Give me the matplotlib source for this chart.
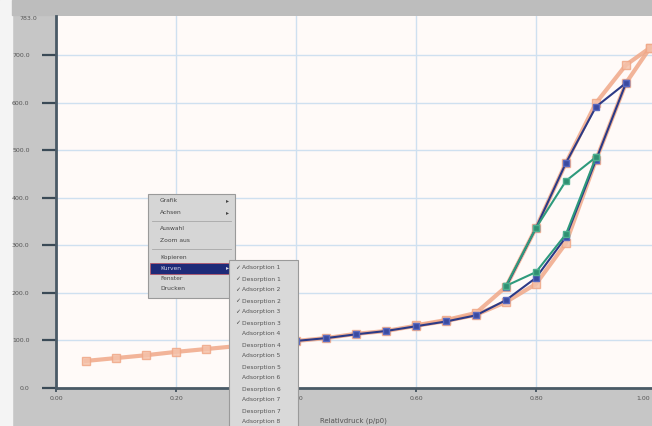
import matplotlib
matplotlib.use("Agg")
import matplotlib.pyplot as plt
from matplotlib.patches import Rectangle

# ---- isotherm data (relative pressure vs. adsorbed amount) ----
p_ads1 = [0.05, 0.10, 0.15, 0.20, 0.25, 0.30, 0.35, 0.40, 0.45, 0.50, 0.55,
          0.60, 0.65, 0.70, 0.75, 0.80, 0.85, 0.90, 0.95, 0.99]
v_ads1 = [57, 63, 69, 76, 82, 88, 95, 99, 105, 114, 120,
          131, 141, 154, 181, 219, 305, 480, 642, 716]
p_des1 = [0.99, 0.95, 0.90, 0.85, 0.80, 0.75, 0.70, 0.65, 0.60]
v_des1 = [716, 680, 600, 474, 337, 213, 158, 143, 132]

p_ads2 = [0.40, 0.45, 0.50, 0.55, 0.60, 0.65, 0.70, 0.75, 0.80, 0.85, 0.90, 0.95]
v_ads2 = [99, 105, 113, 120, 130, 140, 153, 185, 232, 318, 480, 642]
p_des2 = [0.95, 0.90, 0.85, 0.80, 0.75]
v_des2 = [642, 592, 474, 337, 213]

p_ads3 = [0.75, 0.80, 0.85, 0.90]
v_ads3 = [215, 244, 324, 486]
p_des3 = [0.90, 0.85, 0.80, 0.75]
v_des3 = [486, 436, 337, 215]

x_ticks = [0.0, 0.2, 0.4, 0.6, 0.8, 1.0]
x_ticklabels = ["0.00", "0.20", "0.40", "0.60", "0.80", "1.00"]
y_ticks = [0, 100, 200, 300, 400, 500, 600, 700]
y_ticklabels = ["0.0", "100.0", "200.0", "300.0", "400.0", "500.0", "600.0", "700.0"]
y_top_label = "783.0"
x_title = "Relativdruck (p/p0)"

menu_items = ["Grafik", "Achsen", "Auswahl", "Zoom aus", "Kopieren",
              "Kurven", "Fenster", "Drucken"]
submenu_items = ["Adsorption 1", "Desorption 1", "Adsorption 2", "Desorption 2",
                 "Adsorption 3", "Desorption 3", "Adsorption 4", "Desorption 4",
                 "Adsorption 5", "Desorption 5", "Adsorption 6", "Desorption 6",
                 "Adsorption 7", "Desorption 7", "Adsorption 8"]

W, H = 652, 426
fig = plt.figure(figsize=(W / 100, H / 100), dpi=100)
fig.patch.set_facecolor("#c6c6c6")

# window frame pieces
bg = fig.add_axes([0, 0, 1, 1], zorder=0)
bg.set_xlim(0, W); bg.set_ylim(H, 0); bg.axis("off")
bg.add_patch(Rectangle((0, 0), 12, H, color="#f4f4f4"))
bg.add_patch(Rectangle((12, 0), W - 12, 15, color="#bdbdbd"))

# ---- chart ----
x0, x1 = 56, 656
y_top, y_bot = 16, 388
ax = fig.add_axes([x0 / W, (H - y_bot) / H, (x1 - x0) / W, (y_bot - y_top) / H], zorder=1)
ax.set_facecolor("#fffaf8")
ax.set_xlim(0, 1)
ax.set_ylim(0, 783)
ax.set_xticks(x_ticks)
# the last tick sits at the window edge; its label is placed by hand below
ax.set_xticklabels(x_ticklabels[:-1] + [""])
ax.set_yticks(y_ticks)
ax.set_yticklabels(y_ticklabels)
ax.grid(True, color="#cfe0f0", linewidth=1.0)
ax.set_axisbelow(True)
for s in ["top", "right"]:
    ax.spines[s].set_visible(False)
for s in ["left", "bottom"]:
    ax.spines[s].set_color("#4a5a66")
    ax.spines[s].set_linewidth(2.0)
ax.tick_params(axis="y", length=10, width=1.6, color="#3a4a56", pad=9,
               labelsize=4.5, labelcolor="#555555")
ax.tick_params(axis="x", length=3, width=1.2, color="#3a4a56", pad=3,
               labelsize=4.5, labelcolor="#555555")
ax.annotate(x_ticklabels[-1], xy=(x_ticks[-1], 0), xycoords=("data", "axes fraction"),
            xytext=(-4, -6), textcoords="offset points", ha="right", va="top",
            fontsize=4.5, color="#555555", annotation_clip=False)
ax.text(-0.032, 783, y_top_label, transform=ax.transData,
        ha="right", va="top", fontsize=4.5, color="#555555")

salmon = "#f0a888"
navy = "#2c3a86"
green = "#2e9a7c"

ax.plot(p_ads1, v_ads1, color=salmon, lw=3.0, marker="s", ms=6,
        mfc="#f5c2aa", mec=salmon, alpha=0.85, zorder=3)
ax.plot(p_des1, v_des1, color=salmon, lw=3.0, marker="s", ms=6,
        mfc="#f5c2aa", mec=salmon, alpha=0.85, zorder=3)
ax.plot(p_ads2, v_ads2, color=navy, lw=1.5, marker="s", ms=5,
        mfc="#3a4aa0", mec="#5a6ac0", zorder=4)
ax.plot(p_des2, v_des2, color=navy, lw=1.5, marker="s", ms=5,
        mfc="#3a4aa0", mec="#5a6ac0", zorder=4)
ax.plot(p_ads3, v_ads3, color=green, lw=1.5, marker="s", ms=5,
        mfc="#2f8f72", mec="#4fb090", zorder=5)
ax.plot(p_des3, v_des3, color=green, lw=1.5, marker="s", ms=5,
        mfc="#2f8f72", mec="#4fb090", zorder=5)

# ---- popup menus drawn on top ----
ov = fig.add_axes([0, 0, 1, 1], zorder=10)
ov.set_xlim(0, W); ov.set_ylim(H, 0); ov.axis("off")
ov.patch.set_alpha(0)

fig.text(320 / W, 1 - 421 / H, x_title, fontsize=5, color="#555555",
         ha="left", va="center")

# main context menu
ov.add_patch(Rectangle((148, 194), 87, 104, facecolor="#d6d6d6",
                       edgecolor="#9a9a9a", lw=0.8))
menu_y = [201, 213, 229, 240, 257, 268, 279, 289]
has_arrow = [True, True, False, False, False, True, False, False]
for yy in [221, 249]:
    ov.plot([152, 231], [yy, yy], color="#a8a8a8", lw=0.6)
for label, yy, arr in zip(menu_items, menu_y, has_arrow):
    col = "#444444"
    if label == "Kurven":
        ov.add_patch(Rectangle((150, 263), 83, 11, facecolor="#1e2a78",
                               edgecolor="#c05060", lw=0.5))
        col = "#d8d8e8"
    ov.text(160, yy, label, fontsize=4.3, color=col, va="center", ha="left")
    if arr:
        ov.text(229, yy, "\u25b8", fontsize=4.3, color=col, va="center", ha="right")

# sub menu with series list
ov.add_patch(Rectangle((229, 260), 69, 170, facecolor="#d9d9d9",
                       edgecolor="#9a9a9a", lw=0.8))
for i, label in enumerate(submenu_items):
    yy = 268 + i * 11.0
    if i < 6:
        ov.text(235, yy, "\u2713", fontsize=4.3, color="#444444",
                va="center", ha="left")
    ov.text(242, yy, label, fontsize=4.3, color="#555555", va="center", ha="left")

fig.savefig("out.png", dpi=100, facecolor=fig.get_facecolor())
